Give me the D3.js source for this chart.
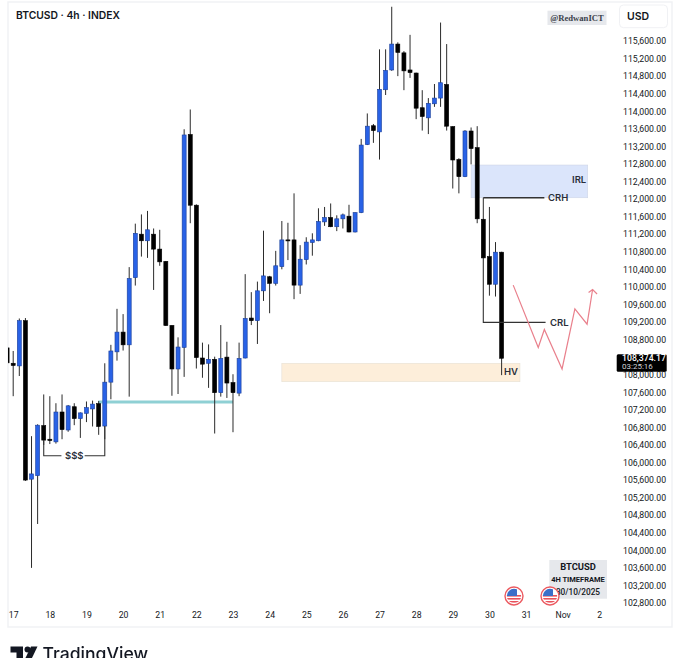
<!DOCTYPE html>
<html>
<head>
<meta charset="utf-8">
<script src="https://cdnjs.cloudflare.com/ajax/libs/d3/7.8.5/d3.min.js"></script>
<style>
html, body { margin: 0; padding: 0; background: #fff; overflow: hidden; }
svg { filter: blur(0.3px); }
text { font-family: Inter, Roboto, sans-serif; }
.axis text { fill: #131722; font-size: 8.7px; font-family: Roboto, sans-serif; }
</style>
</head>
<body>
<div id="chart"></div>
<script>
// 4h candles, index 0 is the 17th at 00:00 (first entry sits just off the pane edge)
var opens = [108610,108260,108200,109230,105620,105700,106840,106530,106470,107150,106740,107270,107000,107120,107220,107340,106830,107830,108520,108970,108680,110210,111200,111050,111200,110860,110580,109120,108130,108620,113470,111860,108380,108260,108350,107590,108400,107820,107580,108380,109290,109230,109910,110230,110080,110460,111070,111070,110040,110620,111010,111050,111480,111580,111370,111550,111610,111250,111690,113240,113670,113530,114490,114940,115530,115330,114940,114870,114080,113850,114170,114300,114610,113650,112900,112510,113550,113170,111540,110690,110060,110790];
var highs = [108620,108540,109280,109290,106600,106870,107550,107510,107350,107550,107310,107350,107140,107390,107410,107400,108260,108680,109500,109380,110450,111440,111650,111730,111330,111300,110590,109130,108850,113590,114040,111880,108730,108690,108410,109130,108750,108010,108730,110290,109880,110120,111280,110250,110820,111500,111460,112130,110950,111130,111220,111790,111820,111900,111630,111670,111870,111700,113370,113950,113710,115410,115410,116380,115570,115370,115740,114880,114480,114300,114620,116020,115530,113660,112930,113570,113630,113660,112030,111820,111020,110800];
var lows = [108260,107510,107970,105580,103600,104600,106400,106420,106430,106530,106700,106850,106560,106920,106820,106630,106530,107440,108320,108550,107500,110030,110690,110660,109930,110480,109110,107520,107560,107950,111450,108140,107930,107700,106660,107500,107470,106690,107510,108370,109130,108700,109680,109400,110030,110400,110610,109720,109840,110510,110710,111040,111390,111360,111270,111330,111240,111240,111680,113230,113280,112900,114370,114920,114800,114480,114760,113820,113560,113480,114100,114100,113560,112240,112130,112500,112790,111450,110650,109800,109780,107990];
var closes = [108270,108210,109230,105600,105740,106850,106510,106500,107150,106750,107290,107000,107130,107250,107330,106820,107830,108540,108970,108680,110190,111220,111050,111300,110860,110570,109120,108130,108630,113460,111860,108390,108240,108350,107590,108370,107810,107590,108370,109280,109230,109910,110250,110080,110480,111070,111050,110040,110630,111020,111070,111490,111580,111370,111550,111640,111250,111690,113230,113660,113560,114500,114930,115530,115340,114920,114880,114070,113880,114180,114300,114650,113660,112890,112510,113550,113150,111550,110660,110060,110790,108374.17];

var priceTicks = [115600,115200,114800,114400,114000,113600,113200,112800,112400,112000,111600,111200,110800,110400,110000,109600,109200,108800,108000,107600,107200,106800,106400,106000,105600,105200,104800,104400,104000,103600,103200,102800];
var dayTicks = [0,6,12,18,24,30,36,42,48,54,60,66,72,78,84,90,96];
var dayLabels = ['17','18','19','20','21','22','23','24','25','26','27','28','29','30','31','Nov','2'];

// annotation values, [candle index, price]
var projectionPath = [[81.9,110040],[86,108620],[87,109030],[89.9,108130],[92,109500],[94,109150],[94.9,109940]];
var irlZone = {from: 75, to: 94.1, top: 112775, bottom: 112030};
var hvZone = {from: 44, to: 83, top: 108258, bottom: 107840};
var sweepLine = {from: 13.9, to: 36, price: 107376};
var crhLevel = 112030, crlLevel = 109192, sssLevel = 106153;
var lastPrice = 108374.17, lastCountdown = '03:25:16';

var width = 680, height = 658;
var paneLeft = 8, paneRight = 672, paneTop = 2, paneBottom = 627;

var x = d3.scaleLinear().domain([0, 96]).range([13.2, 599.3]);
var y = d3.scaleLinear().domain([115600, 102800]).range([41, 603]);

var svg = d3.select('#chart').append('svg').attr('width', width).attr('height', height).style('display', 'block');

svg.append('rect').attr('x', paneLeft).attr('y', paneTop)
	.attr('width', paneRight - paneLeft).attr('height', paneBottom - paneTop)
	.attr('fill', '#fff').attr('stroke', '#f1f2f5').attr('stroke-width', 1.5);

svg.append('clipPath').attr('id', 'pane').append('rect')
	.attr('x', paneLeft).attr('y', paneTop).attr('width', 600).attr('height', paneBottom - paneTop);

// zones sit behind the candles
var zones = svg.append('g');
zones.append('rect')
	.attr('x', x(irlZone.from)).attr('y', y(irlZone.top))
	.attr('width', x(irlZone.to) - x(irlZone.from)).attr('height', y(irlZone.bottom) - y(irlZone.top))
	.attr('fill', '#dbe5fb').attr('stroke', '#cfd6e6').attr('stroke-width', 0.6);
zones.append('rect')
	.attr('x', x(hvZone.from)).attr('y', y(hvZone.top))
	.attr('width', x(hvZone.to) - x(hvZone.from)).attr('height', y(hvZone.bottom) - y(hvZone.top))
	.attr('fill', '#fdeeda').attr('stroke', '#e6e0d4').attr('stroke-width', 0.6);
zones.append('line')
	.attr('x1', x(sweepLine.from)).attr('x2', x(sweepLine.to))
	.attr('y1', y(sweepLine.price)).attr('y2', y(sweepLine.price))
	.attr('stroke', '#8fd0d4').attr('stroke-width', 3);

// first candle of the arrays is index -1
var candles = svg.append('g').attr('clip-path', 'url(#pane)');
var candle = candles.selectAll('g').data(opens).enter().append('g');
candle.append('line')
	.attr('x1', function(d, i){ return x(i - 1); })
	.attr('x2', function(d, i){ return x(i - 1); })
	.attr('y1', function(d, i){ return y(highs[i]); })
	.attr('y2', function(d, i){ return y(lows[i]); })
	.attr('stroke', '#2b2b2b').attr('stroke-width', 1);
candle.append('rect')
	.attr('x', function(d, i){ return x(i - 1) - 2; })
	.attr('width', 4)
	.attr('y', function(d, i){ return y(Math.max(opens[i], closes[i])); })
	.attr('height', function(d, i){ return Math.max(1, Math.abs(y(opens[i]) - y(closes[i]))); })
	.attr('fill', function(d, i){ return closes[i] >= opens[i] ? '#2962e6' : '#000'; })
	.attr('stroke', function(d, i){ return closes[i] >= opens[i] ? '#1b3f99' : '#000'; })
	.attr('stroke-width', 0.6);

// brackets
var brackets = svg.append('g').attr('fill', 'none').attr('stroke', '#333').attr('stroke-width', 1.1);
var bracket = d3.line().x(function(d){ return x(d[0]); }).y(function(d){ return y(d[1]); });
brackets.append('path').attr('d', bracket([[5, closes[6]],[5, sssLevel],[7.9, sssLevel]]));
brackets.append('path').attr('d', bracket([[11.7, sssLevel],[15, sssLevel],[15, 106830]]));
brackets.append('path').attr('d', bracket([[77, crhLevel],[87, crhLevel]])).attr('stroke-width', 1.5);
brackets.append('path').attr('d', bracket([[77, closes[78]],[77, crlLevel],[87.2, crlLevel]]));

// red projection with its arrow head
svg.append('path').attr('d', bracket(projectionPath))
	.attr('fill', 'none').attr('stroke', '#e9808c').attr('stroke-width', 1.2);
var tip = projectionPath[projectionPath.length - 1];
svg.append('path')
	.attr('d', 'M' + (x(tip[0]) - 4) + ',' + (y(tip[1]) + 3) + 'L' + x(tip[0]) + ',' + y(tip[1]) + 'L' + (x(tip[0]) + 4.5) + ',' + (y(tip[1]) + 4.5))
	.attr('fill', 'none').attr('stroke', '#e9808c').attr('stroke-width', 1.2);

// labels on the chart
var labels = svg.append('g').attr('fill', '#2a2e39').style('font-weight', 600).style('font-size', '9.5px');
function label(txt, lx, ly){
	labels.append('text').attr('x', lx).attr('y', ly).attr('dy', '0.35em').text(txt);
}
label('$$$', 65, y(sssLevel));
label('CRH', 548, y(crhLevel));
label('CRL', 550, y(crlLevel));
label('IRL', 572, 180);
label('HV', 504, 372);

// axes
var yAxis = d3.axisRight(y).tickValues(priceTicks).tickSize(0).tickPadding(0)
	.tickFormat(function(d){ return d3.format(',.2f')(d); });
var yg = svg.append('g').attr('class', 'axis').attr('transform', 'translate(623,0)').call(yAxis);
yg.select('.domain').remove();

var xAxis = d3.axisBottom(x).tickValues(dayTicks).tickSize(0).tickPadding(0)
	.tickFormat(function(d, i){ return dayLabels[i]; });
var xg = svg.append('g').attr('class', 'axis').attr('transform', 'translate(0,612)').call(xAxis);
xg.select('.domain').remove();

// header
svg.append('text').attr('x', 16).attr('y', 15).attr('dy', '0.35em')
	.attr('fill', '#131722').style('font-size', '10.3px').style('font-weight', 600).text('BTCUSD · 4h · INDEX');

svg.append('rect').attr('x', 547.5).attr('y', 10.7).attr('width', 59).attr('height', 14.3).attr('fill', '#e6e8ec');
svg.append('text').attr('x', 577).attr('y', 18).attr('dy', '0.35em').attr('text-anchor', 'middle')
	.attr('fill', '#3a3f4a').style('font-family', '"Liberation Serif", serif').style('font-size', '8.6px').style('font-weight', 700).text('@RedwanICT');

svg.append('rect').attr('x', 619.5).attr('y', 5).attr('width', 48).attr('height', 22.7).attr('rx', 4)
	.attr('fill', '#fff').attr('stroke', '#f0f1f4');
svg.append('text').attr('x', 638).attr('y', 16.7).attr('dy', '0.35em').attr('text-anchor', 'middle')
	.attr('fill', '#131722').style('font-size', '10.5px').style('font-weight', 600).text('USD');

// last price tag
svg.append('rect').attr('x', 616.7).attr('y', y(lastPrice) - 4).attr('width', 50).attr('height', 17.4).attr('rx', 1.5).attr('fill', '#000');
svg.append('text').attr('x', 622).attr('y', y(lastPrice)).attr('dy', '0.35em').attr('fill', '#fff')
	.style('font-family', 'Roboto, sans-serif').style('font-size', '8.7px').style('font-weight', 500).text(d3.format(',.2f')(lastPrice));
svg.append('text').attr('x', 622).attr('y', y(lastPrice) + 7.5).attr('dy', '0.35em').attr('fill', '#cfd2d8')
	.style('font-family', 'Roboto, sans-serif').style('font-size', '8px').text(lastCountdown);

// info box bottom right
svg.append('rect').attr('x', 549.3).attr('y', 560).attr('width', 57.7).attr('height', 38.7).attr('fill', '#e6e8ec');
var infoRows = [['BTCUSD', 567, 9.4, 700], ['4H TIMEFRAME', 579.5, 7.5, 700], ['30/10/2025', 592, 8.3, 500]];
svg.selectAll('.info').data(infoRows).enter().append('text').attr('class', 'info')
	.attr('x', 578).attr('y', function(d){ return d[1]; }).attr('dy', '0.35em').attr('text-anchor', 'middle')
	.attr('fill', '#131722').style('font-family', 'Roboto, sans-serif').style('font-weight', function(d){ return d[3]; })
	.style('font-size', function(d){ return d[2] + 'px'; }).text(function(d){ return d[0]; });

// us flag event markers
[514, 550].forEach(function(cx, n){
	var g = svg.append('g').attr('transform', 'translate(' + cx + ',596)');
	var cid = 'flag' + n;
	g.append('clipPath').attr('id', cid).append('circle').attr('r', 7.2);
	g.append('circle').attr('r', 9).attr('fill', '#fff').attr('stroke', '#ec5a60').attr('stroke-width', 1.4);
	var f = g.append('g').attr('clip-path', 'url(#' + cid + ')');
	f.append('rect').attr('x', -8).attr('y', -8).attr('width', 16).attr('height', 16).attr('fill', '#fff');
	[-1, 2, 5].forEach(function(sy){
		f.append('rect').attr('x', -8).attr('y', sy).attr('width', 16).attr('height', 1.6).attr('fill', '#e8525c');
	});
	f.append('rect').attr('x', -8).attr('y', -8).attr('width', 11).attr('height', 8).attr('fill', '#3b6fc9');
});

// tradingview wordmark, cut by the bottom of the page
var logo = svg.append('g').attr('fill', '#131722');
logo.append('path').attr('d', 'M10.5,646.5H23V660H16.5V652.5H10.5Z');
logo.append('circle').attr('cx', 27.5).attr('cy', 649.5).attr('r', 3);
logo.append('path').attr('d', 'M31,646.5H37.5L31,660H24.5Z');
logo.append('text').attr('x', 42.5).attr('y', 659.5).attr('fill', '#131722')
	.style('font-size', '17.6px').style('font-weight', 500).text('TradingView');
</script>
</body>
</html>
